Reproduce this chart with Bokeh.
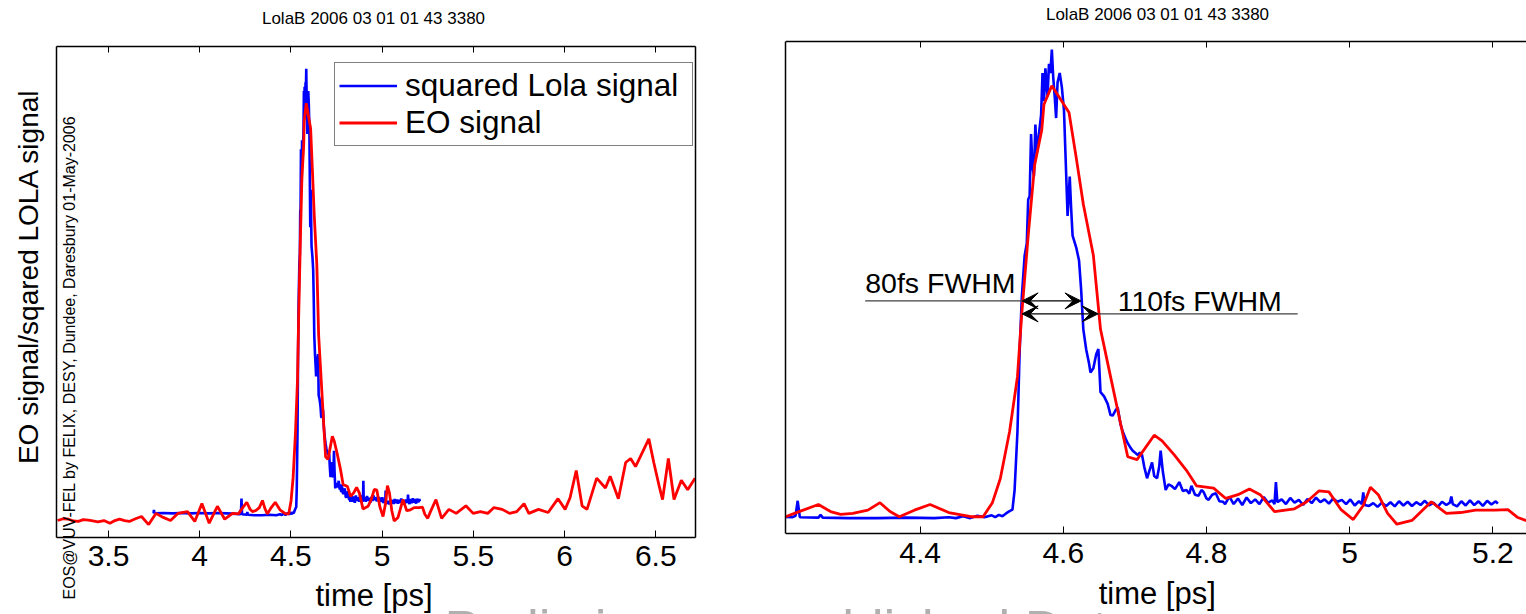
import math
from bokeh.plotting import figure
from bokeh.layouts import row
from bokeh.models import (Range1d, FixedTicker, LinearAxis, Label, Legend, LegendItem,
                          Arrow, VeeHead)
from bokeh.embed import file_html
from bokeh.resources import INLINE
from bokeh.core.properties import value

FONT = "Liberation Sans"

# ---------------- texts ----------------
title_text = "LolaB 2006 03 01 01 43 3380"
ylabel_text = "EO signal/sqared LOLA signal"
xlabel_text = "time [ps]"
credit_text = "EOS@VUV-FEL by FELIX, DESY, Dundee, Daresbury 01-May-2006"
watermark_text = "Preliminary unpublished Data"
legend_labels = ["squared Lola signal", "EO signal"]

# ---------------- ticks ----------------
left_ticks = [3.5, 4, 4.5, 5, 5.5, 6, 6.5]
right_ticks = [4.4, 4.6, 4.8, 5, 5.2]

# ---------------- EO signal (red) ----------------
eo_time = [3.221, 3.252, 3.282, 3.308, 3.335, 3.362, 3.389, 3.415, 3.442, 3.475,
           3.508, 3.535, 3.561, 3.588, 3.614, 3.648, 3.681, 3.720, 3.760, 3.800,
           3.840, 3.880, 3.933, 3.973, 4.012, 4.052, 4.097, 4.137, 4.180, 4.212,
           4.231, 4.258, 4.275, 4.289, 4.306, 4.327, 4.344, 4.358, 4.371, 4.392,
           4.414, 4.440, 4.471, 4.488, 4.501, 4.512, 4.525, 4.536, 4.542, 4.551,
           4.560, 4.570, 4.573, 4.584, 4.608, 4.618, 4.628, 4.642, 4.652, 4.666,
           4.680, 4.690, 4.703, 4.727, 4.738, 4.755, 4.772, 4.786, 4.810, 4.827,
           4.844, 4.860, 4.875, 4.895, 4.923, 4.940, 4.957, 4.971, 4.988, 5.005,
           5.019, 5.029, 5.040, 5.053, 5.066, 5.087, 5.114, 5.135, 5.155, 5.176,
           5.203, 5.221, 5.234, 5.250, 5.265, 5.295, 5.326, 5.366, 5.406, 5.459,
           5.499, 5.539, 5.579, 5.613, 5.658, 5.698, 5.738, 5.778, 5.804, 5.857,
           5.910, 5.964, 6.003, 6.030, 6.064, 6.096, 6.123, 6.176, 6.224, 6.250,
           6.295, 6.335, 6.362, 6.389, 6.420, 6.462, 6.489, 6.521, 6.537, 6.569,
           6.600, 6.640, 6.675, 6.715]
eo_signal = [-0.012, -0.008, -0.009, -0.013, -0.014, -0.010, -0.011, -0.013, -0.015, -0.012,
             -0.018, -0.012, -0.009, -0.012, -0.014, -0.008, -0.003, -0.021, 0.004, -0.005,
             -0.012, 0.004, 0.008, -0.014, 0.026, -0.018, 0.020, -0.009, 0.004, 0.003,
             0.014, 0.029, 0.014, 0.008, 0.010, 0.017, 0.033, 0.014, 0.003, 0.017,
             0.029, 0.012, 0.003, 0.003, 0.033, 0.084, 0.185, 0.302, 0.436, 0.603,
             0.754, 0.829, 0.883, 0.923, 0.866, 0.770, 0.670, 0.561, 0.403, 0.302,
             0.202, 0.131, 0.125, 0.177, 0.165, 0.135, 0.102, 0.069, 0.064, 0.042,
             0.050, 0.062, 0.050, 0.014, 0.020, 0.035, 0.058, 0.056, 0.018, -0.003,
             0.027, 0.066, 0.050, 0.010, -0.013, -0.005, 0.035, 0.010, 0.012, 0.017,
             0.017, 0.018, 0.002, -0.007, 0.008, 0.035, -0.007, 0.013, 0.004, 0.021,
             0.004, 0.008, 0.004, 0.017, 0.013, 0.004, 0.008, 0.026, 0.004, 0.013,
             0.006, 0.037, 0.013, 0.039, 0.100, 0.021, 0.013, 0.083, 0.061, 0.087,
             0.037, 0.118, 0.127, 0.109, 0.135, 0.171, 0.118, 0.061, 0.035, 0.127,
             0.035, 0.078, 0.057, 0.083]

# ---------------- squared LOLA signal (blue) ----------------
lola_time = [3.747, 3.749, 3.752, 3.800, 3.850, 3.900, 3.950, 4.000, 4.050, 4.100,
             4.150, 4.200, 4.222, 4.226, 4.229, 4.232, 4.258, 4.261, 4.264, 4.300,
             4.340, 4.380, 4.420, 4.440, 4.450, 4.460, 4.470, 4.480, 4.490, 4.500,
             4.505, 4.510, 4.515, 4.520, 4.525, 4.529, 4.532, 4.536, 4.539, 4.542,
             4.546, 4.549, 4.551, 4.553, 4.555, 4.557, 4.559, 4.561, 4.563, 4.566,
             4.569, 4.571, 4.573, 4.575, 4.578, 4.580, 4.582, 4.584, 4.586, 4.588,
             4.590, 4.592, 4.595, 4.598, 4.601, 4.603, 4.606, 4.608, 4.609, 4.611,
             4.613, 4.618, 4.622, 4.625, 4.628, 4.632, 4.636, 4.638, 4.642, 4.646,
             4.649, 4.652, 4.657, 4.662, 4.666, 4.669, 4.673, 4.676, 4.680, 4.683,
             4.687, 4.690, 4.694, 4.697, 4.700, 4.704, 4.707, 4.710, 4.713, 4.717,
             4.720, 4.724, 4.727, 4.731, 4.734, 4.736, 4.739, 4.743, 4.747, 4.751,
             4.756, 4.762, 4.767, 4.772, 4.776, 4.779, 4.784, 4.789, 4.793, 4.796,
             4.800, 4.803, 4.808, 4.813, 4.818, 4.823, 4.826, 4.832, 4.838, 4.844,
             4.850, 4.856, 4.862, 4.868, 4.874, 4.880, 4.886, 4.892, 4.895, 4.897,
             4.899, 4.905, 4.911, 4.917, 4.923, 4.929, 4.935, 4.941, 4.947, 4.953,
             4.959, 4.965, 4.971, 4.977, 4.983, 4.989, 4.995, 5.001, 5.007, 5.013,
             5.017, 5.019, 5.021, 5.027, 5.033, 5.039, 5.045, 5.051, 5.057, 5.063,
             5.069, 5.075, 5.081, 5.087, 5.093, 5.099, 5.105, 5.111, 5.117, 5.123,
             5.129, 5.135, 5.140, 5.142, 5.144, 5.150, 5.156, 5.162, 5.168, 5.174,
             5.180, 5.186, 5.192, 5.198, 5.204, 5.207]
lola_signal = [0.004, 0.012, 0.004, 0.005, 0.004, 0.005, 0.004, 0.005, 0.004, 0.005,
               0.004, 0.003, 0.002, 0.005, 0.037, 0.002, 0.001, 0.007, 0.001, 0.000,
               0.000, 0.001, 0.000, 0.002, 0.000, 0.004, 0.000, 0.005, 0.002, 0.006,
               0.002, 0.007, 0.004, 0.010, 0.015, 0.018, 0.060, 0.185, 0.353, 0.470,
               0.560, 0.586, 0.680, 0.687, 0.820, 0.750, 0.730, 0.840, 0.780, 0.820,
               0.860, 0.950, 0.890, 0.960, 0.900, 0.970, 0.950, 1.000, 0.940, 0.900,
               0.854, 0.930, 0.950, 0.920, 0.870, 0.780, 0.645, 0.700, 0.729, 0.660,
               0.603, 0.578, 0.550, 0.486, 0.403, 0.360, 0.330, 0.311, 0.320, 0.350,
               0.361, 0.269, 0.260, 0.244, 0.220, 0.219, 0.230, 0.236, 0.200, 0.185,
               0.170, 0.160, 0.150, 0.144, 0.140, 0.135, 0.140, 0.135, 0.110, 0.085,
               0.100, 0.119, 0.090, 0.085, 0.110, 0.144, 0.100, 0.060, 0.072, 0.069,
               0.062, 0.077, 0.058, 0.060, 0.052, 0.069, 0.050, 0.048, 0.060, 0.056,
               0.042, 0.039, 0.050, 0.053, 0.036, 0.035, 0.030, 0.046, 0.030, 0.042,
               0.028, 0.044, 0.032, 0.040, 0.030, 0.045, 0.033, 0.038, 0.030, 0.077,
               0.034, 0.040, 0.030, 0.043, 0.033, 0.039, 0.028, 0.041, 0.032, 0.044,
               0.034, 0.040, 0.031, 0.042, 0.035, 0.039, 0.030, 0.040, 0.027, 0.036,
               0.030, 0.055, 0.028, 0.026, 0.032, 0.024, 0.033, 0.026, 0.034, 0.025,
               0.036, 0.027, 0.035, 0.026, 0.034, 0.028, 0.037, 0.027, 0.033, 0.024,
               0.035, 0.028, 0.033, 0.046, 0.030, 0.025, 0.036, 0.027, 0.038, 0.028,
               0.036, 0.026, 0.037, 0.029, 0.036, 0.031]

# ---------------- FWHM annotations (right panel) ----------------
fwhm_labels = ["80fs FWHM", "110fs FWHM"]
fwhm_start = [4.5425, 4.5425]
fwhm_end = [4.6247, 4.6486]
fwhm_level = [0.4637, 0.436]
fwhm_text_x = [4.3233, 4.676]
fwhm_text_y = [0.502, 0.4645]
fwhm_lead_x0 = [4.3233, 4.6486]
fwhm_lead_x1 = [4.5425, 4.9274]

# ---------------- panel boxes (data extents of the axes boxes) ----------------
left_box_x = (3.2166, 6.716)
left_box_y = (-0.05, 1.05)
left_view_x = (2.908, 7.074)
left_view_y = (-0.2225, 1.153)
right_box_x = (4.212, 5.247)
right_box_y = (-0.0335, 1.018)
right_view_y = (-0.2057, 1.1049)

BLUE = "#0000ff"
RED = "#ff0000"


def fmt(t):
    return "%g" % t


def style_x_axis(ax, ticks, labels, tick_len):
    ax.ticker = FixedTicker(ticks=ticks)
    ax.major_label_overrides = {t: (fmt(t) if labels else "") for t in ticks}
    ax.major_tick_in = tick_len
    ax.major_tick_out = 0
    ax.minor_tick_line_color = None
    ax.axis_line_width = 1.5
    ax.axis_line_color = "black"
    ax.major_tick_line_color = "black"
    ax.major_label_text_font = FONT
    ax.major_label_text_font_size = "30px"
    ax.major_label_text_color = "black"
    ax.major_label_standoff = 9


def style_y_axis(ax):
    ax.ticker = FixedTicker(ticks=[])
    ax.minor_tick_line_color = None
    ax.major_tick_line_color = None
    ax.axis_line_width = 1.5
    ax.axis_line_color = "black"


def screen_label(p, x, y, text, size, angle=0.0, align="center", baseline="middle",
                 color="black"):
    p.add_layout(Label(x=x, y=y, x_units="screen", y_units="screen", text=text,
                       angle=angle, text_align=align, text_baseline=baseline,
                       text_font=FONT, text_font_size=size, text_color=color))


# ================= left panel =================
p1 = figure(width=760, height=614, x_range=Range1d(*left_view_x), y_range=Range1d(*left_view_y),
            output_backend="svg", toolbar_location=None,
            min_border_left=0, min_border_right=0, min_border_top=0, min_border_bottom=0)
p1.xgrid.visible = False
p1.ygrid.visible = False
p1.outline_line_color = None

xb = p1.xaxis[0]
style_x_axis(xb, left_ticks, True, 7)
xb.fixed_location = left_box_y[0]
xb.bounds = left_box_x
xt = LinearAxis(fixed_location=left_box_y[1], bounds=left_box_x)
style_x_axis(xt, left_ticks, False, 6)
p1.add_layout(xt, "above")
yl = p1.yaxis[0]
style_y_axis(yl)
yl.fixed_location = left_box_x[0]
yl.bounds = left_box_y
yr = LinearAxis(fixed_location=left_box_x[1], bounds=left_box_y)
style_y_axis(yr)
p1.add_layout(yr, "right")

rb = p1.line(lola_time, lola_signal, line_color=BLUE, line_width=2.6)
rr = p1.line(eo_time, eo_signal, line_color=RED, line_width=2.8)

legend = Legend(items=[LegendItem(label=legend_labels[0], renderers=[rb]),
                       LegendItem(label=legend_labels[1], renderers=[rr])],
                location=(334, 468), label_text_font=FONT, label_text_font_size="31.5px",
                label_text_color="black",
                glyph_width=58, glyph_height=37, label_height=37, label_width=283,
                label_standoff=8, padding=4, spacing=0, margin=0,
                border_line_color="black", border_line_width=1.2,
                background_fill_color="white", background_fill_alpha=1.0)
p1.add_layout(legend)

screen_label(p1, 373, 596, title_text, "17px")
screen_label(p1, 373.5, 19, xlabel_text, "31px")
screen_label(p1, 27.5, 338, ylabel_text, "28px", angle=math.pi / 2)
screen_label(p1, 69, 15, credit_text, "16px", angle=math.pi / 2, align="left")
screen_label(p1, 444, 15, watermark_text, "53px", align="left", baseline="top",
             color="#b0b0b0")

# ================= right panel =================
p2 = figure(width=766, height=614, x_range=Range1d(*right_box_x), y_range=Range1d(*right_view_y),
            output_backend="svg", toolbar_location=None,
            min_border_left=25, min_border_right=0, min_border_top=0, min_border_bottom=0)
p2.xgrid.visible = False
p2.ygrid.visible = False
p2.outline_line_color = None

xb2 = p2.xaxis[0]
style_x_axis(xb2, right_ticks, True, 7)
xb2.fixed_location = right_box_y[0]
xt2 = LinearAxis(fixed_location=right_box_y[1])
style_x_axis(xt2, right_ticks, False, 6)
p2.add_layout(xt2, "above")
yl2 = p2.yaxis[0]
style_y_axis(yl2)
yl2.bounds = right_box_y

p2.line(lola_time, lola_signal, line_color=BLUE, line_width=2.6)
p2.line(eo_time, eo_signal, line_color=RED, line_width=2.8)

p2.segment(x0=fwhm_lead_x0, y0=fwhm_level, x1=fwhm_lead_x1, y1=fwhm_level,
           line_color="#404040", line_width=1.2)
for xs, xe, lv in zip(fwhm_start, fwhm_end, fwhm_level):
    p2.add_layout(Arrow(x_start=xs, y_start=lv, x_end=xe, y_end=lv,
                        line_color="black", line_width=1.3,
                        start=VeeHead(size=16, fill_color="black", line_color="black"),
                        end=VeeHead(size=16, fill_color="black", line_color="black")))
p2.text(x=fwhm_text_x, y=fwhm_text_y, text=fwhm_labels, text_font=value(FONT),
        text_font_size="28.5px", text_baseline="middle", text_align="left",
        text_color="black")

screen_label(p2, 372, 600, title_text, "17px")
screen_label(p2, 371.7, 21, xlabel_text, "31px")
screen_label(p2, -341, 15, watermark_text, "53px", align="left", baseline="top",
             color="#b0b0b0")

layout = row(p1, p2)
open("out.html", "w").write(file_html(layout, INLINE))
